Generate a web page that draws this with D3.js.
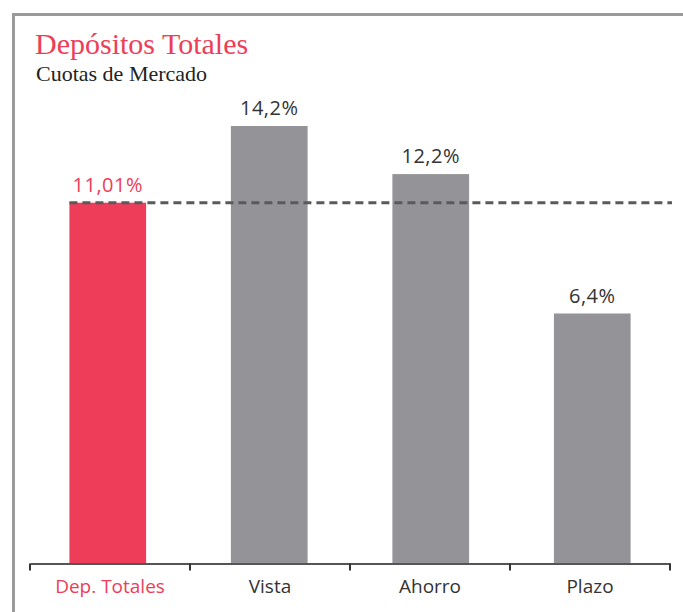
<!DOCTYPE html>
<html>
<head>
<meta charset="utf-8">
<script src="https://cdn.jsdelivr.net/npm/d3@7"></script>
<style>
  body { margin: 0; background: #fff; }
  svg { display: block; }
</style>
</head>
<body>
<div id="wrapper"></div>
<script>
const categories = ["Dep. Totales", "Vista", "Ahorro", "Plazo"]
const values = [11.01, 14.2, 12.2, 6.4]
const valueLabels = ["11,01%", "14,2%", "12,2%", "6,4%"]
const referenceValue = 11.01

const red = "#ee3d58"
const grey = "#949498"

function drawBarChart() {
    const dataset = categories.map((c, i) => ({ category: c, value: values[i], label: valueLabels[i] }))
    const xAccessor = d => d.category
    const yAccessor = d => d.value

    let dimensions = {
        width: 683,
        height: 612,
        margin: { top: 126, right: 13, bottom: 48.5, left: 30 },
    }
    dimensions.boundedWidth = dimensions.width - dimensions.margin.left - dimensions.margin.right
    dimensions.boundedHeight = dimensions.height - dimensions.margin.top - dimensions.margin.bottom

    const wrapper = d3.select("#wrapper")
        .append("svg")
            .attr("width", dimensions.width)
            .attr("height", dimensions.height)

    // frame (only top and left edges visible)
    wrapper.append("path")
        .attr("d", "M13.5,612 V14.5 H683")
        .attr("fill", "none")
        .attr("stroke", "#9a9a9c")
        .attr("stroke-width", 3)

    // titles
    wrapper.append("text")
        .attr("x", 35).attr("y", 54)
        .attr("font-family", "'Liberation Serif', serif")
        .attr("font-size", 30)
        .attr("fill", red)
        .text("Depósitos Totales")
    wrapper.append("text")
        .attr("x", 36).attr("y", 81)
        .attr("font-family", "'Liberation Serif', serif")
        .attr("font-size", 22)
        .attr("fill", "#222")
        .text("Cuotas de Mercado")

    const bounds = wrapper.append("g")
        .attr("transform", `translate(${dimensions.margin.left},${dimensions.margin.top})`)

    // scales
    const xScale = d3.scaleBand()
        .domain(categories)
        .range([0, dimensions.boundedWidth])
    const xBars = xScale.copy()
        .range([-3, dimensions.boundedWidth + 3])
        .paddingInner(0.525)
        .paddingOuter(0.2625)
    const yScale = d3.scaleLinear()
        .domain([-4, 14.2])
        .range([dimensions.boundedHeight, 0])

    // bars
    bounds.selectAll(".bar")
        .data(dataset)
        .join("rect")
            .attr("class", "bar")
            .attr("x", d => xBars(xAccessor(d)))
            .attr("width", xBars.bandwidth())
            .attr("y", d => yScale(yAccessor(d)))
            .attr("height", d => yScale(-4) - yScale(yAccessor(d)))
            .attr("fill", (d, i) => i == 0 ? red : grey)

    // value labels
    bounds.selectAll(".value")
        .data(dataset)
        .join("text")
            .attr("class", "value")
            .attr("x", d => xBars(xAccessor(d)) + xBars.bandwidth() / 2)
            .attr("y", d => yScale(yAccessor(d)) - 11)
            .attr("text-anchor", "middle")
            .attr("font-family", "'Open Sans', sans-serif")
            .attr("font-size", 20)
            .attr("letter-spacing", 0.5)
            .attr("fill", (d, i) => i == 0 ? red : "#333")
            .text(d => d.label)

    // reference dashed line
    bounds.append("line")
        .attr("x1", xBars(categories[0]))
        .attr("x2", dimensions.boundedWidth + 2)
        .attr("y1", yScale(referenceValue))
        .attr("y2", yScale(referenceValue))
        .attr("stroke", "#5a5a5c")
        .attr("stroke-width", 3)
        .attr("stroke-dasharray", "8,5")

    // x axis
    const xAxis = bounds.append("g")
        .attr("transform", `translate(0,${dimensions.boundedHeight})`)
        .call(d3.axisBottom(xScale).tickSize(0).tickPadding(16))
    xAxis.select(".domain")
        .attr("stroke", "#555")
        .attr("stroke-width", 2)
    xAxis.selectAll(".tick text")
        .attr("font-family", "'Open Sans', sans-serif")
        .attr("font-size", 19)
        .attr("fill", (d, i) => i == 0 ? red : "#333")

    const boundaries = categories.map(c => xScale(c)).concat(xScale.range()[1])
    xAxis.selectAll(".divider")
        .data(boundaries)
        .join("line")
            .attr("class", "divider")
            .attr("x1", d => d).attr("x2", d => d)
            .attr("y1", 0).attr("y2", 7)
            .attr("stroke", "#333")
            .attr("stroke-width", 2)
}
drawBarChart()
</script>
</body>
</html>
